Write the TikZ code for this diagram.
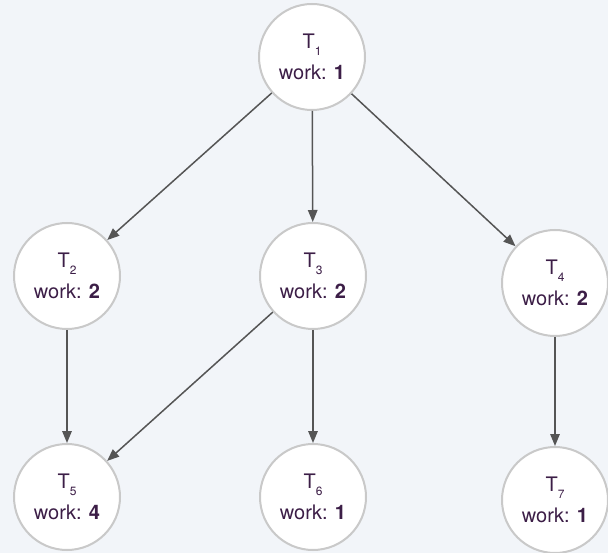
\documentclass[tikz,border=0pt]{standalone}
\usepackage{fontspec}
\setmainfont{TeX Gyre Heros}
\usetikzlibrary{arrows.meta}
\definecolor{bgcol}{HTML}{F2F5F9}
\definecolor{ringcol}{HTML}{C9C9C9}
\definecolor{inkcol}{HTML}{3C1E47}
\definecolor{edgecol}{HTML}{555555}
\newcommand{\tasklabel}[2]{T\raisebox{-7pt}{\fontsize{12}{12}\selectfont #1}\\work: \textbf{#2}}
\tikzset{
  task/.style={circle, draw=ringcol, line width=2pt, fill=white,
    minimum size=106pt, inner sep=0pt, align=center, text=inkcol,
    font=\fontsize{20}{31}\selectfont},
  dep/.style={draw=edgecol, line width=1.5pt,
    -{Triangle[length=12pt,width=9.5pt]}},
}
\begin{document}
\begin{tikzpicture}[x=1pt,y=-1pt]
  \fill[bgcol] (0,0) rectangle (608,553);
  \useasboundingbox (0,0) rectangle (608,553);

  \node[task] (t1) at (312,57)  {\tasklabel{1}{1}};
  \node[task] (t2) at (67,276)  {\tasklabel{2}{2}};
  \node[task] (t3) at (313,276) {\tasklabel{3}{2}};
  \node[task] (t4) at (555,283) {\tasklabel{4}{2}};
  \node[task] (t5) at (67,497)  {\tasklabel{5}{4}};
  \node[task] (t6) at (313,497) {\tasklabel{6}{1}};
  \node[task] (t7) at (555,500) {\tasklabel{7}{1}};

  \draw[dep] (t1) -- (t2);
  \draw[dep] (t1) -- (t3);
  \draw[dep] (t1) -- (t4);
  \draw[dep] (t2) -- (t5);
  \draw[dep] (t3) -- (t5);
  \draw[dep] (t3) -- (t6);
  \draw[dep] (t4) -- (t7);
\end{tikzpicture}
\end{document}
